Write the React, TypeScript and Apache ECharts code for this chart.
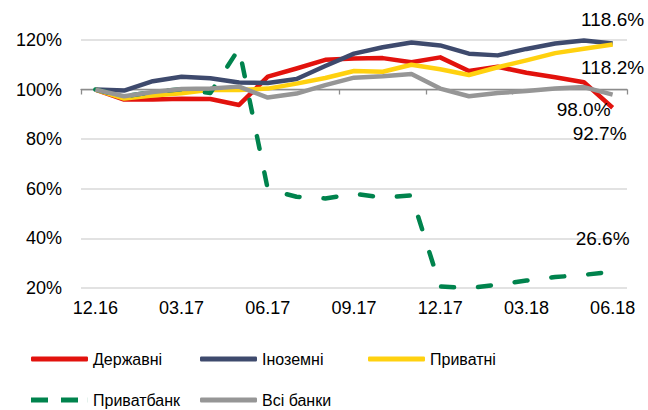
import React, { useEffect, useRef } from 'react';
import * as echarts from 'echarts';

const categories = ['12.16', '01.17', '02.17', '03.17', '04.17', '05.17', '06.17', '07.17', '08.17', '09.17', '10.17', '11.17', '12.17', '01.18', '02.18', '03.18', '04.18', '05.18', '06.18'];
const yMin = 20;
const yMax = 120;
const yStep = 20;

const derzhavni = [100, 96, 96, 96.3, 96.2, 93.8, 105.2, 108.5, 112, 112.5, 112.7, 111, 113, 107.5, 109.2, 106.8, 105, 103, 92.7];
const inozemni = [100, 99.6, 103.4, 105.2, 104.6, 102.9, 102.7, 104.3, 109.5, 114.5, 117.1, 119, 117.8, 114.5, 113.8, 116.4, 118.6, 119.8, 118.6];
const pryvatni = [100, 96.4, 97.6, 98.5, 99.9, 99.8, 100.4, 102.4, 104.7, 107.5, 107.2, 110, 108.2, 105.9, 109, 111.8, 114.7, 116.5, 118.2];
const pryvatbank = [100, 97.3, 99, 100.2, 98.6, 116.6, 59.8, 56.8, 56.1, 58, 56.5, 57.3, 20.6, 19.9, 21.4, 23, 24.4, 25.3, 26.6];
const vsiBanky = [100, 97.3, 99, 100.2, 100.4, 101.2, 96.8, 98.4, 101.8, 104.8, 105.4, 106.3, 100.4, 97.3, 98.6, 99.4, 100.4, 101, 98];

const FONT = '"Liberation Sans", Arial, sans-serif';

function endMark(values: number[], offset: number[]) {
  const last = values.length - 1;
  return {
    silent: true,
    symbol: 'circle',
    symbolSize: 1,
    itemStyle: { color: 'rgba(0,0,0,0)' },
    label: {
      show: true,
      position: 'inside',
      formatter: () => values[last].toFixed(1) + '%',
      offset,
      fontSize: 19,
      fontFamily: FONT,
      color: '#000',
    },
    data: [{ coord: [last, values[last]], value: values[last] }],
  };
}

function lineSeries(name: string, data: number[], color: string, offset: number[], dashed = false, z = 2) {
  return {
    name,
    type: 'line',
    data,
    xAxisIndex: 0,
    color,
    z,
    showSymbol: false,
    symbol: 'none',
    lineStyle: {
      color,
      width: 4.5,
      type: dashed ? [13, 24] : 'solid',
      cap: dashed ? 'round' : 'butt',
      join: 'round',
    },
    markPoint: endMark(data, offset),
  };
}

const legendBase = {
  itemWidth: 57,
  itemHeight: 5,
  padding: 0,
  selectedMode: false,
  textStyle: { fontSize: 16, fontFamily: FONT, color: '#000' },
};

const dashIcon = 'path://M0,0h17v5h-17z M30,0h17v5h-17z M56.9,0h0.1v5h-0.1z';

export default function App() {
  const ref = useRef<HTMLDivElement>(null);
  useEffect(() => {
    if (!ref.current) return;
    const chart = echarts.init(ref.current, undefined, { renderer: 'svg' });
    chart.setOption({
      animation: false,
      backgroundColor: '#fff',
      grid: { left: 81, right: 21, top: 40, bottom: 122, containLabel: false },
      xAxis: [
        {
          type: 'category',
          data: categories,
          boundaryGap: true,
          position: 'bottom',
          axisLine: { show: false },
          axisTick: { show: false },
          axisLabel: { interval: 2, margin: 11, fontSize: 18, fontFamily: FONT, color: '#000' },
          splitLine: { show: false },
        },
        {
          type: 'category',
          data: categories,
          boundaryGap: true,
          position: 'bottom',
          offset: -198.5,
          z: 1,
          axisLine: { show: true, onZero: false, lineStyle: { color: '#8c8c8c', width: 1.3 } },
          axisTick: { show: true, interval: 2, length: 5, lineStyle: { color: '#8c8c8c', width: 1.3 } },
          axisLabel: { show: false },
          splitLine: { show: false },
        },
      ],
      yAxis: {
        type: 'value',
        min: yMin,
        max: yMax,
        interval: yStep,
        axisLine: { show: false },
        axisTick: { show: false },
        axisLabel: { formatter: '{value}%', margin: 19, fontSize: 18, fontFamily: FONT, color: '#000' },
        splitLine: { lineStyle: { color: '#d9d9d9', width: 1.5 } },
      },
      legend: [
        { ...legendBase, left: 31, top: 351, data: [{ name: 'Державні', icon: 'roundRect' }] },
        { ...legendBase, left: 200, top: 351, data: [{ name: 'Іноземні', icon: 'roundRect' }] },
        { ...legendBase, left: 368, top: 351, data: [{ name: 'Приватні', icon: 'roundRect' }] },
        { ...legendBase, left: 31, top: 392, itemGap: 0, data: [{ name: 'Приватбанк', icon: dashIcon }] },
        { ...legendBase, left: 200, top: 392, data: [{ name: 'Всі банки', icon: 'roundRect' }] },
      ],
      series: [
        lineSeries('Державні', derzhavni, '#e2120d', [-13, 26], false, 2),
        lineSeries('Іноземні', inozemni, '#3e4a6d', [0, -24], false, 3),
        lineSeries('Приватні', pryvatni, '#ffd10f', [0, 23], false, 3),
        lineSeries('Приватбанк', pryvatbank, '#00834d', [-10, -33], true, 3),
        lineSeries('Всі банки', vsiBanky, '#969696', [-29, 15], false, 4),
      ],
    });
    return () => chart.dispose();
  }, []);
  return <div ref={ref} style={{ width: 648, height: 410, position: 'absolute', left: 0, top: 0 }} />;
}
